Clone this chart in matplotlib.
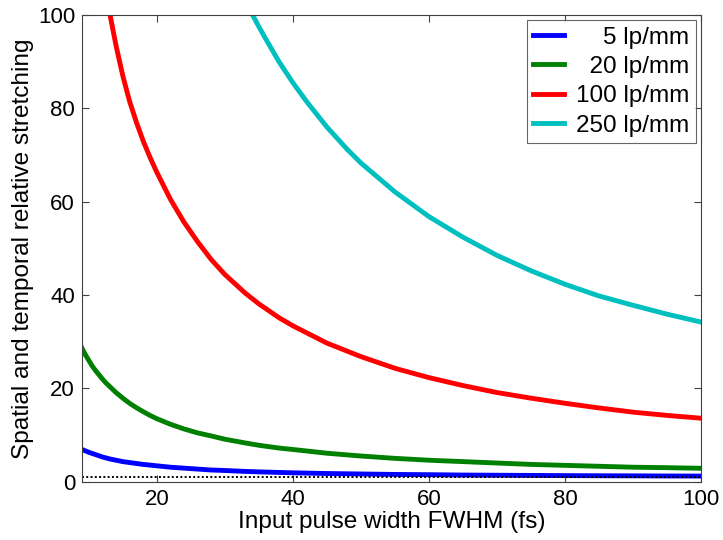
import matplotlib
matplotlib.use("Agg")
import matplotlib.pyplot as plt

plt.rcParams['font.family'] = ['Liberation Sans', 'DejaVu Sans']

# Input pulse width FWHM (fs)
x_all = [9, 9.5, 10, 10.5, 11, 11.5, 12, 12.5, 13, 14, 15, 16, 17, 18, 19, 20,
         22, 24, 26, 28, 30, 33, 35, 38, 40, 45, 50, 55, 60, 65, 70, 75, 80,
         85, 90, 95, 100]

blue_5 = [6.9, 6.6, 6.3, 6.05, 5.8, 5.55, 5.3, 5.1, 4.9, 4.6, 4.3, 4.1, 3.9,
          3.7, 3.55, 3.4, 3.1, 2.9, 2.7, 2.5, 2.4, 2.2, 2.1, 1.98, 1.9, 1.75,
          1.65, 1.55, 1.5, 1.42, 1.38, 1.34, 1.3, 1.27, 1.25, 1.22, 1.2]

green_20 = [28.6, 27.2, 26.0, 24.8, 23.8, 22.9, 22.0, 21.2, 20.5, 19.1, 17.9,
            16.8, 15.85, 15.0, 14.2, 13.5, 12.3, 11.3, 10.45, 9.8, 9.1, 8.3,
            7.8, 7.2, 6.9, 6.1, 5.5, 5.0, 4.6, 4.3, 4.0, 3.7, 3.5, 3.3, 3.1,
            3.0, 2.87]

x_red = [13, 13.5, 14, 14.5, 15, 15.5, 16, 17, 18, 19, 20, 22, 24, 26, 28, 30,
         33, 35, 38, 40, 45, 50, 55, 60, 65, 70, 75, 80, 85, 90, 95, 100]
red_100 = [101.0, 97.2, 93.5, 90.2, 87.0, 84.2, 81.5, 77.0, 73.0, 69.5, 66.3,
           60.5, 55.6, 51.4, 47.6, 44.4, 40.4, 38.1, 35.1, 33.4, 29.7, 26.8,
           24.3, 22.3, 20.6, 19.1, 17.9, 16.8, 15.8, 14.9, 14.2, 13.6]

x_cyan = [33, 34, 35, 36, 38, 40, 42, 45, 48, 50, 55, 60, 65, 70, 75, 80, 85,
          90, 95, 100]
cyan_250 = [103.0, 100.2, 97.5, 94.9, 89.9, 85.5, 81.5, 76.0, 71.2, 68.3,
            62.1, 56.8, 52.4, 48.5, 45.2, 42.3, 39.8, 37.8, 35.9, 34.2]

labels = ['\u2007\u20075 lp/mm', '\u200720 lp/mm', '100 lp/mm', '250 lp/mm']
colors = ['#0000ff', '#008000', '#ff0000', '#00bfbf']

ref_x = [9, 100]
ref_y = [1, 1]

fig = plt.figure(figsize=(7.23, 5.4), dpi=100)
ax = fig.add_axes([0.1134, 0.108, 0.8562, 0.8642])

lw = 3.5
ax.plot(x_all, blue_5, color=colors[0], lw=lw, label=labels[0])
ax.plot(x_all, green_20, color=colors[1], lw=lw, label=labels[1])
ax.plot(x_red, red_100, color=colors[2], lw=lw, label=labels[2])
ax.plot(x_cyan, cyan_250, color=colors[3], lw=lw, label=labels[3])
ax.plot(ref_x, ref_y, color='black', lw=1.4, ls=(0, (1, 1.2)))

ax.set_xlim(9, 100)
ax.set_ylim(0, 100)
ax.set_xticks([20, 40, 60, 80, 100])
ax.set_yticks([0, 20, 40, 60, 80, 100])

fs = 16
ax.tick_params(direction='in', length=5, width=0.8, colors='#404040',
               labelcolor='black', labelsize=fs, top=True, right=True, pad=5)
for s in ax.spines.values():
    s.set_color('#404040')
    s.set_linewidth(0.8)

lfs = 17.6
ax.set_xlabel('Input pulse width FWHM (fs)', fontsize=lfs, labelpad=1)
ax.set_ylabel('Spatial and temporal relative stretching', fontsize=lfs, labelpad=3)

leg = ax.legend(loc='upper right', fontsize=17.5, frameon=True, fancybox=False,
                edgecolor='#404040', handlelength=1.25, handletextpad=0.5,
                borderaxespad=0.2, labelspacing=0.3, borderpad=0.28)
leg.get_frame().set_linewidth(0.8)

fig.savefig('out.png', dpi=100)
